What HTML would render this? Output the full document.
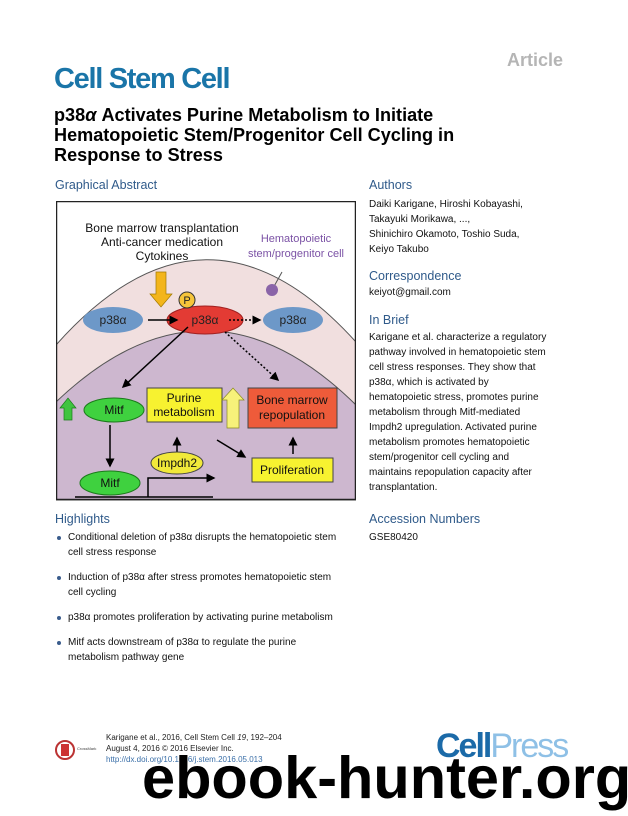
<!DOCTYPE html>
<html><head><meta charset="utf-8"><style>
body{margin:0;width:628px;height:816px;background:#fff;font-family:"Liberation Sans",sans-serif;position:relative;overflow:hidden}
.a{position:absolute;white-space:nowrap}
.h{color:#2f5a8a;font-size:12.5px}
.t{font-size:10px;color:#111;line-height:15px}
ul{margin:0;padding:0;list-style:none}
li{position:relative;padding-left:13px;margin-bottom:10px}
li:before{content:"";position:absolute;left:2px;top:6px;width:4px;height:4px;border-radius:50%;background:#3a5c8c}
</style></head><body>
<div class="a" style="left:507px;top:50px;font-size:18px;font-weight:bold;color:#b5b5b5">Article</div>
<div class="a" style="left:54px;top:63px;font-size:29px;font-weight:bold;color:#1a75a8;letter-spacing:-1.3px">Cell Stem Cell</div>
<div class="a" style="left:54px;top:105px;font-size:18.1px;font-weight:bold;color:#000;line-height:20px">p38<i>α</i> Activates Purine Metabolism to Initiate<br>Hematopoietic Stem/Progenitor Cell Cycling in<br>Response to Stress</div>
<div class="a h" style="left:55px;top:178px">Graphical Abstract</div>
<div class="a h" style="left:369px;top:178px">Authors</div>
<div class="a t" style="left:369px;top:197px">Daiki Karigane, Hiroshi Kobayashi,<br>Takayuki Morikawa, ...,<br>Shinichiro Okamoto, Toshio Suda,<br>Keiyo Takubo</div>
<div class="a h" style="left:369px;top:269px">Correspondence</div>
<div class="a t" style="left:369px;top:285px">keiyot@gmail.com</div>
<div class="a h" style="left:369px;top:313px">In Brief</div>
<div class="a t" style="left:369px;top:330px">Karigane et al. characterize a regulatory<br>pathway involved in hematopoietic stem<br>cell stress responses. They show that<br>p38α, which is activated by<br>hematopoietic stress, promotes purine<br>metabolism through Mitf-mediated<br>Impdh2 upregulation. Activated purine<br>metabolism promotes hematopoietic<br>stem/progenitor cell cycling and<br>maintains repopulation capacity after<br>transplantation.</div>
<div class="a h" style="left:55px;top:512px">Highlights</div>
<div class="a h" style="left:369px;top:512px">Accession Numbers</div>
<div class="a t" style="left:369px;top:530px">GSE80420</div>
<div class="a t" style="left:55px;top:530px"><ul>
<li>Conditional deletion of p38α disrupts the hematopoietic stem<br>cell stress response</li>
<li>Induction of p38α after stress promotes hematopoietic stem<br>cell cycling</li>
<li>p38α promotes proliferation by activating purine metabolism</li>
<li>Mitf acts downstream of p38α to regulate the purine<br>metabolism pathway gene</li></ul></div>

<svg class="a" style="left:56px;top:201px" width="300" height="300" viewBox="0 0 300 300" font-family="Liberation Sans, sans-serif">
<defs><marker id="m" markerWidth="6" markerHeight="6" refX="5" refY="3" orient="auto"><path d="M0,0L6,3L0,6z" fill="#000"/></marker></defs>
<rect x="0" y="0" width="300" height="299" fill="#fff"/>
<path d="M0,144 Q150,-25 300,141 L300,299 L0,299Z" fill="#f1dfdf" stroke="#555" stroke-width="1"/>
<path d="M0,201 Q151,57 300,204 L300,299 L0,299Z" fill="#cdb7cf" stroke="#555" stroke-width="1"/>
<rect x="0.5" y="0.5" width="299" height="298" fill="none" stroke="#222" stroke-width="1.5"/>
<g font-size="12" text-anchor="middle" fill="#111">
<text x="106" y="31">Bone marrow transplantation</text>
<text x="106" y="45">Anti-cancer medication</text>
<text x="106" y="59">Cytokines</text></g>
<g font-size="11" text-anchor="middle" fill="#7b52a5">
<text x="240" y="41">Hematopoietic</text><text x="240" y="56">stem/progenitor cell</text></g>
<line x1="226" y1="71" x2="216" y2="89" stroke="#555"/>
<circle cx="216" cy="89" r="6" fill="#8a64a8"/>
<path d="M100,71h10v22h6l-11,13l-11,-13h6z" fill="#f3b51b" stroke="#a07800" stroke-width=".7"/>
<ellipse cx="57" cy="119" rx="30" ry="13" fill="#6d98c8"/>
<ellipse cx="149" cy="119" rx="38" ry="14" fill="#e33b34" stroke="#a02020"/>
<ellipse cx="237" cy="119" rx="30" ry="13" fill="#6d98c8"/>
<circle cx="131" cy="99" r="8" fill="#f6c53b" stroke="#333"/>
<g font-size="12" text-anchor="middle" fill="#222"><text x="131" y="103" font-size="11">P</text>
<text x="57" y="123">p38α</text><text x="149" y="123">p38α</text><text x="237" y="123">p38α</text></g>
<g stroke="#000" stroke-width="1.5" fill="none">
<line x1="92" y1="119" x2="121" y2="119" marker-end="url(#m)"/>
<line x1="173" y1="119" x2="204" y2="119" stroke-dasharray="2,2" marker-end="url(#m)"/>
<line x1="132" y1="126" x2="67" y2="186" marker-end="url(#m)"/>
<line x1="169" y1="131" x2="222" y2="179" stroke-dasharray="2,2" marker-end="url(#m)"/>
<line x1="54" y1="224" x2="54" y2="265" marker-end="url(#m)"/>
<line x1="121" y1="253" x2="121" y2="237" marker-end="url(#m)"/>
<line x1="161" y1="239" x2="189" y2="256" marker-end="url(#m)"/>
<line x1="237" y1="253" x2="237" y2="237" marker-end="url(#m)"/>
<line x1="19" y1="296" x2="157" y2="296"/>
<polyline points="92,296 92,277 158,277" marker-end="url(#m)"/></g>
<path d="M4,207l8,-10l8,10h-4v12h-8v-12z" fill="#3fc43f" stroke="#1b7a1b" stroke-width=".7"/>
<ellipse cx="58" cy="209" rx="30" ry="12" fill="#3fd13f" stroke="#1b7a1b"/>
<ellipse cx="54" cy="282" rx="30" ry="12" fill="#3fd13f" stroke="#1b7a1b"/>
<rect x="91" y="187" width="75" height="34" fill="#f7f230" stroke="#444"/>
<path d="M171,227v-28h-5l11,-12l11,12h-5v28z" fill="#f7f27a" stroke="#8a8a20" stroke-width=".7"/>
<rect x="192" y="187" width="89" height="40" fill="#ee5b3a" stroke="#444"/>
<ellipse cx="121" cy="262" rx="26" ry="11" fill="#f1e93a" stroke="#444"/>
<rect x="196" y="257" width="81" height="24" fill="#f7f230" stroke="#444"/>
<g font-size="12" text-anchor="middle" fill="#111">
<text x="58" y="213">Mitf</text><text x="54" y="286">Mitf</text>
<text x="128" y="201">Purine</text><text x="128" y="215">metabolism</text>
<text x="236" y="203">Bone marrow</text><text x="236" y="218">repopulation</text>
<text x="121" y="266">Impdh2</text><text x="236" y="273">Proliferation</text></g>
</svg>

<svg class="a" style="left:54px;top:739px" width="22" height="22"><circle cx="11" cy="11" r="9" fill="#fff" stroke="#b33" stroke-width="2"/><rect x="7" y="5" width="8" height="12" fill="#c33"/></svg>
<div class="a" style="left:77px;top:746px;font-size:4px;color:#444">CrossMark</div>
<div class="a" style="left:106px;top:732px;font-size:8px;color:#222;line-height:11px">Karigane et al., 2016, Cell Stem Cell <i>19</i>, 192–204<br>August 4, 2016 © 2016 Elsevier Inc.<br><span style="color:#3a6fa8">http://dx.doi.org/10.1016/j.stem.2016.05.013</span></div>
<div class="a" style="left:436px;top:727px;font-size:34px;font-weight:bold;letter-spacing:-2px;color:#1b6aa8">Cell<span style="color:#8ec0e6;font-weight:normal">Press</span></div>
<div class="a" style="left:142px;top:744px;width:486px;overflow:hidden;font-size:59.5px;font-weight:bold;color:#000;line-height:68px">ebook-hunter.org</div>
</body></html>
